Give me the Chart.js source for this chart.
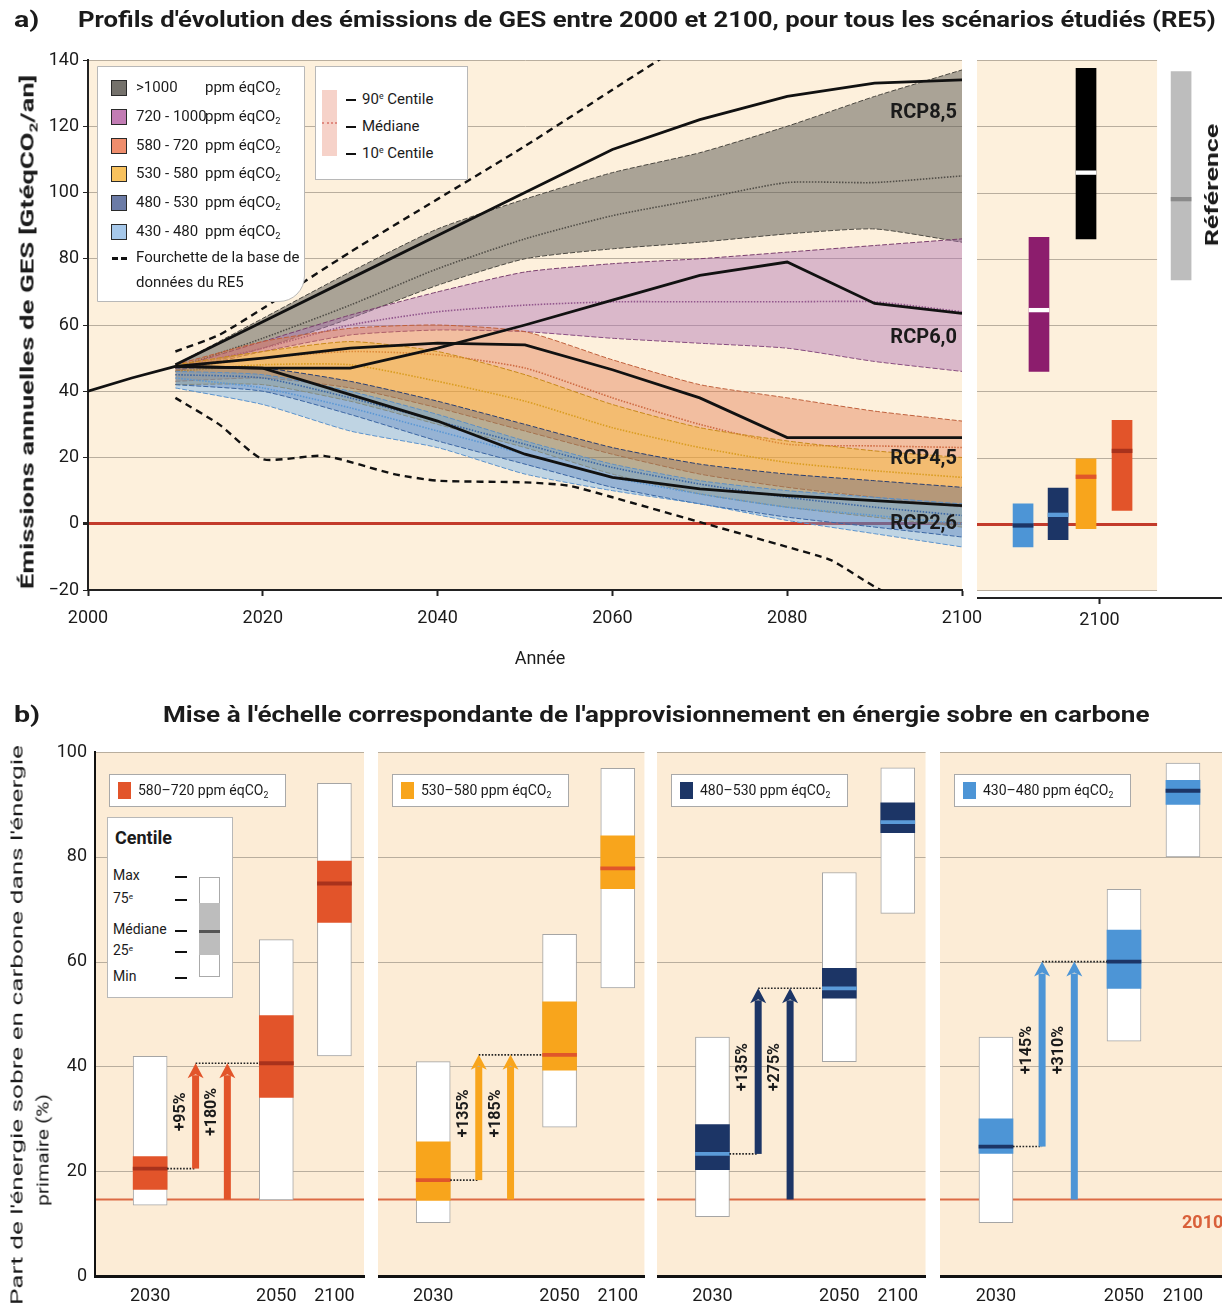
<!DOCTYPE html>
<html lang="fr">
<head>
<meta charset="utf-8">
<title>Émissions de GES et énergie sobre en carbone (RE5)</title>
<script src="https://cdn.jsdelivr.net/npm/chart.js@4.4.1/dist/chart.umd.min.js"></script>
<style>
  html, body { margin: 0; padding: 0; background: #fff; }
  body { position: relative; width: 1222px; height: 1315px; overflow: hidden;
         font-family: Roboto, "Open Sans", sans-serif; color: #1b1b1b; }
  canvas { position: absolute; }
  .t { position: absolute; white-space: nowrap; line-height: 1; }
  .title { font-weight: bold; font-size: 22px; transform-origin: left center; }
  .c { transform: translate(-50%, -50%); }
  .box { position: absolute; background: #fff; border: 1px solid #b8b8b8; box-sizing: border-box; }
  .sw { position: absolute; box-sizing: border-box; }
  .dash { position: absolute; height: 2px; background: #111; }
  sub { font-size: 62%; vertical-align: -0.35em; line-height: 0; }
  sup { font-size: 58%; vertical-align: 0.55em; line-height: 0; }
  .lg { font-size: 15px; }
  .lg span.n { display: inline-block; width: 69px; }
</style>
</head>
<body>

<canvas id="mainChart" width="1005" height="680" style="left:0;top:0"></canvas>
<canvas id="sideChart" width="245" height="680" style="left:977px;top:0"></canvas>
<div id="panelsB"></div>

<!-- titles -->
<div class="t title fit" data-w="26" style="left:14px;top:9px;">a)</div>
<div class="t title fit" data-w="1138" style="left:78px;top:9px;">Profils d'évolution des émissions de GES entre 2000 et 2100, pour tous les scénarios étudiés (RE5)</div>
<div class="t title fit" data-w="26" style="left:14px;top:704px;">b)</div>
<div class="t title fit" data-w="987" style="left:163px;top:704px;">Mise à l'échelle correspondante de l'approvisionnement en énergie sobre en carbone</div>

<div class="t fit" data-rot="1" data-w="515" style="left:27px;top:332px;font-weight:bold;font-size:19px;">Émissions annuelles de GES [GtéqCO<sub>2</sub>/an]</div>
<div class="t c" style="left:540px;top:658px;font-size:18px;">Année</div>
<div class="t fit" data-rot="1" data-w="123" style="left:1212px;top:185px;font-weight:bold;font-size:18px;">Référence</div>
<div class="t fit" data-rot="1" data-w="560" style="left:17px;top:1025px;font-size:17px;">Part de l'énergie sobre en carbone dans l'énergie</div>
<div class="t fit" data-rot="1" data-w="112" style="left:43px;top:1150px;font-size:17px;">primaire (%)</div>
<div class="t" style="left:1182px;top:1213px;font-size:18px;font-weight:bold;color:#d9603a;">2010</div>

<!-- legend a -->
<div class="box" style="left:97px;top:66px;width:208px;height:236px;border-radius:0 0 26px 0;"></div>
<div id="legendA"></div>
<div class="sw" style="left:112px;top:257px;width:6px;height:3px;background:#111;"></div>
<div class="sw" style="left:121px;top:257px;width:6px;height:3px;background:#111;"></div>
<div class="t lg" style="left:136px;top:250px;">Fourchette de la base de</div>
<div class="t lg" style="left:136px;top:275px;">données du RE5</div>

<div class="box" style="left:315px;top:66px;width:153px;height:114px;"></div>
<div class="sw" style="left:322px;top:90px;width:15px;height:66px;background:rgba(240,180,165,0.6);"></div>
<div class="sw" style="left:322px;top:122px;width:15px;height:0;border-top:2px dotted #e08a80;"></div>
<div class="dash" style="left:346px;top:99px;width:10px;"></div>
<div class="dash" style="left:346px;top:126px;width:10px;"></div>
<div class="dash" style="left:346px;top:153px;width:10px;"></div>
<div class="t lg" style="left:362px;top:92px;">90<sup>e</sup> Centile</div>
<div class="t lg" style="left:362px;top:119px;">Médiane</div>
<div class="t lg" style="left:362px;top:146px;">10<sup>e</sup> Centile</div>

<!-- panel b legends -->
<div id="legendB"></div>
<div class="box" style="left:107px;top:817px;width:126px;height:181px;"></div>
<div class="t" style="left:115px;top:829px;font-size:18px;font-weight:bold;">Centile</div>
<div class="t lg" style="left:113px;top:868px;font-size:14px;">Max</div>
<div class="t lg" style="left:113px;top:891px;font-size:14px;">75<sup>e</sup></div>
<div class="t lg" style="left:113px;top:922px;font-size:14px;">Médiane</div>
<div class="t lg" style="left:113px;top:943px;font-size:14px;">25<sup>e</sup></div>
<div class="t lg" style="left:113px;top:969px;font-size:14px;">Min</div>
<div class="dash" style="left:175px;top:876px;width:12px;"></div>
<div class="dash" style="left:175px;top:899px;width:12px;"></div>
<div class="dash" style="left:175px;top:930px;width:12px;"></div>
<div class="dash" style="left:175px;top:951px;width:12px;"></div>
<div class="dash" style="left:175px;top:977px;width:12px;"></div>
<div class="sw" style="left:199px;top:877px;width:21px;height:100px;border:1px solid #aaa;background:#fff;"></div>
<div class="sw" style="left:199px;top:903px;width:21px;height:52px;background:#bdbdbd;"></div>
<div class="sw" style="left:199px;top:930px;width:21px;height:3px;background:#555;"></div>

<script>
// ---------- a) emissions pathways (GtCO2eq / yr) ----------
const years = [2010, 2020, 2030, 2040, 2050, 2060, 2070, 2080, 2090, 2100];
const histYears = [2000, 2005, 2010];
const histEmissions = [40, 44, 47.5];

const rcp85 = [48, 61, 74, 87, 100, 113, 122, 129, 133, 134];
const rcp60 = [47.5, 47, 47, 53, 60, 67.5, 75, 79, 66.5, 63.5];
const rcp45 = [47.5, 50, 53, 54.5, 54, 46.5, 38, 26, 26, 26];
const rcp26 = [47.5, 47, 39, 31, 21, 14, 10.5, 8.5, 7, 5.5];
const rcpNames = ['RCP8,5', 'RCP6,0', 'RCP4,5', 'RCP2,6'];
const rcpTagAt = [124, 56, 19.5, 0];

const dbHighYears = [2010, 2015, 2020, 2030, 2040, 2050, 2060, 2070];
const dbHigh = [52, 57, 65, 82, 98, 114, 131, 148];
const dbLowYears = [2010, 2015, 2020, 2027, 2035, 2040, 2050, 2055, 2060, 2070, 2080, 2085, 2090, 2095];
const dbLow = [38, 30, 19.5, 20.5, 15, 13, 12.5, 11.5, 8, 0.5, -7, -11, -19, -26];

// 90th centile / median / 10th centile per concentration category
const hi1000 = [48, 62, 76, 89, 98, 106, 112, 120, 129, 137];
const med1000 = [47, 56, 66, 77, 86, 93, 98, 103, 103, 105];
const lo1000 = [46, 53, 62, 72, 80, 83, 85, 87.5, 89, 85];
const hi720 = [47, 55, 63, 70, 76, 78.5, 80, 82, 84, 86];
const med720 = [47, 53, 60, 64, 66, 67, 67, 67, 67, 64];
const lo720 = [46, 52, 57, 58.5, 58, 56, 54.5, 53, 49, 46];
const hi580 = [48, 55, 59, 60, 58, 49.5, 42, 38, 34, 31];
const med580 = [47, 50, 52, 51, 47, 38, 30, 24, 23.5, 23];
const lo580 = [43, 44, 41, 35, 28, 21, 15, 11, 8, 5];
const hi530 = [48, 52, 55, 52, 45, 36, 29, 25, 22, 20];
const med530 = [46, 48, 48, 43, 37, 29, 23, 18.5, 16, 14];
const lo530 = [42, 42, 37, 30, 23, 15, 9, 5, 2, -1];
const hi480 = [47, 47, 43, 37, 30, 23, 18, 15, 13, 11];
const med480 = [45, 44, 38, 31, 24, 17, 12, 8, 5, 2.5];
const lo480 = [42, 40, 33, 25, 18, 11, 6, 2, -1, -4];
const hi430 = [46, 45, 40, 33, 25, 18, 13, 10, 8, 6];
const med430 = [44, 41, 35, 28, 21, 14, 9, 5, 2.5, 0];
const lo430 = [41, 36, 28, 23, 15, 10, 6, 1, -3, -7];

const catNames = ['>1000', '720 - 1000', '580 - 720', '530 - 580', '480 - 530', '430 - 480'];

// 2100 ranges (side panel)
const sideNames = ['430-480', '720-1000', '480-530', '>1000', '530-580', '580-720', 'Référence'];
const sideLow = [-7, 46, -4.8, 86, -1.5, 4, 73.6];
const sideMed = [-0.5, 64.5, 2.7, 106, 14.2, 22, 98];
const sideHigh = [6, 86.5, 10.8, 137.5, 19.6, 31.2, 136.5];

// ---------- b) low-carbon share of primary energy (%) ----------
const bYears = ['2030', '2050', '2100'];
const bScenarios = ['580–720', '530–580', '480–530', '430–480'];
const bMin = [[13.5, 14.5, 42], [10.2, 28.4, 55], [11.3, 40.9, 69.2], [10.2, 44.8, 80]];
const bQ25 = [[16.5, 34.1, 67.5], [14.4, 39.3, 73.9], [20.3, 53, 84.6], [23.4, 54.9, 90]];
const bMed = [[20.5, 40.6, 74.9], [18.3, 42.2, 77.8], [23.3, 54.9, 86.6], [24.7, 60, 92.6]];
const bQ75 = [[22.8, 49.7, 79.2], [25.6, 52.3, 84], [28.9, 58.7, 90.3], [30, 66, 94.6]];
const bMax = [[41.9, 64.2, 94], [40.9, 65.2, 96.9], [45.6, 77, 97], [45.6, 73.8, 97.9]];
const gainVs2030 = ['+95%', '+135%', '+135%', '+145%'];
const gainVs2010 = ['+180%', '+185%', '+275%', '+310%'];
const share2010 = 14.6;

// ---------- styling / layout ----------
const FONT = 'Roboto, "Open Sans", sans-serif';
const CREAM = '#fdf0dc';
const CREAM_B = '#fcecd6';
const GRID = '#b9ae9e';
const INK = '#1b1b1b';

const bandFill = ['rgba(87,86,80,0.5)', 'rgba(175,115,180,0.45)', 'rgba(227,121,77,0.42)',
                  'rgba(246,184,42,0.4)', 'rgba(40,70,140,0.3)', 'rgba(90,165,240,0.38)'];
const bandEdge = ['#4a4740', '#7a3f6e', '#c0603c', '#c88a1a', '#2a3f70', '#5d8fc4'];
const legendSwatch = ['#74716b', '#c27cb4', '#ee8d6c', '#f8c25e', '#6b7ba6', '#a6c8ea'];

const sideColor = ['#4d95d6', '#8c1d6d', '#1c3566', '#000000', '#f8a51c', '#e2542a', '#bdbdbd'];
const sideMedColor = ['#1c3566', '#ffffff', '#5b9bd9', '#ffffff', '#e0562a', '#a8321c', '#8a8a8a'];
const sidePos = [1.88, 2.53, 3.31, 4.45, 4.45, 5.92, 8.33];
const sideCreamEnd = 7.35;

const bColor = ['#e2542a', '#f8a51c', '#1c3566', '#4d95d6'];
const bMedColor = ['#a8321c', '#e0562a', '#5b9bd9', '#1c3566'];
const bPlot = [[95, 368], [378, 648], [657, 928], [940, 1222]];
const slotX = [2.05, 6.74, 8.9];
const arrowX = [3.74, 4.92];
const PX_PER_UNIT = 27.3;

function pts(xs, ys) { return ys.map((y, i) => ({ x: xs[i], y: y })); }

// ---------- HTML legends ----------
const legendA = document.getElementById('legendA');
catNames.forEach((name, i) => {
  const y = 88 + i * 28.8;
  legendA.innerHTML +=
    `<div class="sw" style="left:111px;top:${y - 8}px;width:16px;height:16px;border:1.5px solid #2a2a2a;background:${legendSwatch[i]}"></div>` +
    `<div class="t lg" style="left:136px;top:${y - 8}px;"><span class="n">${name}</span>ppm éqCO<sub>2</sub></div>`;
});

const legendB = document.getElementById('legendB');
bScenarios.forEach((name, i) => {
  const left = bPlot[i][0] + 14;
  legendB.innerHTML +=
    `<div class="box" style="left:${left}px;top:774px;width:177px;height:33px;border-color:#a9a9a9"></div>` +
    `<div class="sw" style="left:${left + 9}px;top:782px;width:13px;height:17px;background:${bColor[i]}"></div>` +
    `<div class="t" style="left:${left + 29}px;top:783px;font-size:14px;">${name} ppm éqCO<sub>2</sub></div>`;
});

// ---------- plugins ----------
const creamBg = {
  id: 'creamBg',
  beforeDraw(chart, args, opts) {
    const { ctx, chartArea: a } = chart;
    ctx.save();
    ctx.fillStyle = opts.color || CREAM;
    ctx.fillRect(a.left, a.top, a.right - a.left, a.bottom - a.top);
    ctx.restore();
  }
};

const rcpTags = {
  id: 'rcpTags',
  afterDatasetsDraw(chart) {
    const { ctx, scales: { x, y } } = chart;
    ctx.save();
    ctx.font = 'bold 20px ' + FONT;
    ctx.fillStyle = '#1a1a1a';
    ctx.textAlign = 'right';
    ctx.textBaseline = 'middle';
    rcpNames.forEach((n, i) => ctx.fillText(n, x.getPixelForValue(2100) - 5, y.getPixelForValue(rcpTagAt[i])));
    ctx.restore();
  }
};

const sideBg = {
  id: 'sideBg',
  beforeDraw(chart) {
    const { ctx, chartArea: a, scales: { x, y } } = chart;
    const right = x.getPixelForValue(sideCreamEnd);
    const top = y.getPixelForValue(140), bottom = y.getPixelForValue(-20);
    ctx.save();
    ctx.fillStyle = CREAM;
    ctx.fillRect(a.left, top, right - a.left, bottom - top);
    for (let v = -20; v <= 140; v += 20) {
      const py = Math.round(y.getPixelForValue(v)) + 0.5;
      ctx.strokeStyle = v === 0 ? '#c33b2b' : GRID;
      ctx.lineWidth = v === 0 ? 3 : 1;
      ctx.beginPath(); ctx.moveTo(a.left, py); ctx.lineTo(right, py); ctx.stroke();
    }
    ctx.restore();
  }
};

const panelBg = {
  id: 'panelBg',
  beforeDraw(chart) {
    const { ctx, chartArea: a, scales: { y } } = chart;
    ctx.save();
    ctx.fillStyle = CREAM_B;
    ctx.fillRect(a.left, a.top, a.right - a.left, a.bottom - a.top);
    ctx.strokeStyle = GRID; ctx.lineWidth = 1;
    [20, 40, 60, 80, 100].forEach(v => {
      const py = Math.round(y.getPixelForValue(v)) + 0.5;
      ctx.beginPath(); ctx.moveTo(a.left, py); ctx.lineTo(a.right, py); ctx.stroke();
    });
    ctx.strokeStyle = '#dc6a44'; ctx.lineWidth = 1.8;
    const p = y.getPixelForValue(share2010);
    ctx.beginPath(); ctx.moveTo(a.left, p); ctx.lineTo(a.right, p); ctx.stroke();
    ctx.restore();
  }
};

function drawArrow(ctx, x, y0, y1, color) {
  const head = 13, hw = 8, sw = 3.5;
  ctx.fillStyle = color;
  ctx.fillRect(x - sw, y1 + head - 1, sw * 2, y0 - y1 - head + 1);
  ctx.beginPath();
  ctx.moveTo(x - hw, y1 + head + 2);
  ctx.lineTo(x, y1);
  ctx.lineTo(x + hw, y1 + head + 2);
  ctx.lineTo(x, y1 + head - 2);
  ctx.closePath();
  ctx.fill();
}

const gainArrows = {
  id: 'gainArrows',
  afterDatasetsDraw(chart, args, o) {
    const { ctx, scales: { x, y } } = chart;
    const half = 17;
    const x30 = x.getPixelForValue(slotX[0]), x50 = x.getPixelForValue(slotX[1]);
    const xa = x.getPixelForValue(arrowX[0]), xb = x.getPixelForValue(arrowX[1]);
    const yFrom = y.getPixelForValue(o.from), yTop = y.getPixelForValue(o.to), yBase = y.getPixelForValue(share2010);
    ctx.save();
    ctx.strokeStyle = '#222'; ctx.lineWidth = 1.6; ctx.setLineDash([1.6, 1.6]);
    ctx.beginPath();
    ctx.moveTo(x30 + half, yFrom); ctx.lineTo(xa, yFrom);
    ctx.moveTo(xa, yTop); ctx.lineTo(x50 - half, yTop);
    ctx.stroke();
    ctx.setLineDash([]);
    drawArrow(ctx, xa, yFrom, yTop, o.color);
    drawArrow(ctx, xb, yBase, yTop, o.color);
    ctx.fillStyle = INK;
    ctx.font = 'bold 16px ' + FONT;
    ctx.textAlign = 'center'; ctx.textBaseline = 'middle';
    const yMid = (yFrom + yTop) / 2 - 4;
    [[xa, o.g1], [xb, o.g2]].forEach(([px, t]) => {
      ctx.save(); ctx.translate(px - 15, yMid); ctx.rotate(-Math.PI / 2); ctx.fillText(t, 0, 0); ctx.restore();
    });
    ctx.restore();
  }
};

// ---------- a) main chart ----------
const mainSets = [];
[rcp85, rcp60, rcp45, rcp26].forEach(v => mainSets.push({ data: pts(years, v), borderColor: '#111', borderWidth: 2.8, tension: 0 }));
mainSets.push({ data: pts(histYears, histEmissions), borderColor: '#111', borderWidth: 2.8, tension: 0 });
mainSets.push({ data: pts(dbHighYears, dbHigh), borderColor: '#111', borderWidth: 2.4, borderDash: [7, 5] });
mainSets.push({ data: pts(dbLowYears, dbLow), borderColor: '#111', borderWidth: 2.4, borderDash: [7, 5] });

const bands = [[hi1000, med1000, lo1000], [hi720, med720, lo720], [hi580, med580, lo580],
               [hi530, med530, lo530], [hi480, med480, lo480], [hi430, med430, lo430]];
for (let i = bands.length - 1; i >= 0; i--) {
  const [hi, med, lo] = bands[i];
  mainSets.push({ data: pts(years, hi), borderColor: bandEdge[i], borderWidth: 1, borderDash: [5, 2],
                  fill: { target: '+2' }, backgroundColor: bandFill[i] });
  mainSets.push({ data: pts(years, med), borderColor: bandEdge[i], borderWidth: 1.6, borderDash: [1.5, 1.5] });
  mainSets.push({ data: pts(years, lo), borderColor: bandEdge[i], borderWidth: 1, borderDash: [5, 2] });
}

const tickFont = { family: FONT, size: 18 };

new Chart(document.getElementById('mainChart'), {
  type: 'line',
  data: { datasets: mainSets },
  options: {
    responsive: false,
    animation: false,
    layout: { padding: { top: 60, right: 43 } },
    elements: { point: { radius: 0 }, line: { tension: 0.2, fill: false } },
    plugins: { legend: { display: false }, tooltip: { enabled: false }, creamBg: { color: CREAM } },
    scales: {
      x: {
        type: 'linear', min: 2000, max: 2100,
        ticks: { stepSize: 20, color: INK, font: tickFont, padding: 12, maxRotation: 0, callback: v => String(v) },
        grid: { drawOnChartArea: false, color: '#222', tickLength: 6, tickWidth: 2 },
        border: { color: '#222', width: 2 },
        afterFit: s => { s.height = 90; }
      },
      y: {
        min: -20, max: 140,
        ticks: { stepSize: 20, color: INK, font: tickFont, padding: 4, callback: v => (v < 0 ? '−' + Math.abs(v) : String(v)) },
        grid: {
          color: c => (c.tick && c.tick.value === 0 ? '#c33b2b' : GRID),
          lineWidth: c => (c.tick && c.tick.value === 0 ? 3 : 1),
          tickLength: 5, tickColor: '#222'
        },
        border: { color: '#222', width: 2 },
        afterFit: s => { s.width = 88; }
      }
    }
  },
  plugins: [creamBg, rcpTags]
});

// ---------- a) side panel, 2100 ranges ----------
new Chart(document.getElementById('sideChart'), {
  type: 'bar',
  data: {
    datasets: [
      { data: sideMed.map((m, i) => ({ x: sidePos[i], y: [m - 0.55, m + 0.55] })), backgroundColor: sideMedColor,
        barThickness: 20, grouped: false },
      { data: sideLow.map((lo, i) => ({ x: sidePos[i], y: [lo, sideHigh[i]] })), backgroundColor: sideColor,
        barThickness: 20, grouped: false }
    ]
  },
  options: {
    responsive: false,
    animation: false,
    layout: { padding: { top: 60 } },
    plugins: { legend: { display: false }, tooltip: { enabled: false } },
    scales: {
      x: {
        type: 'linear', min: 0, max: 10, offset: false,
        afterBuildTicks: s => { s.ticks = [{ value: 5 }]; },
        ticks: { color: INK, font: tickFont, padding: 6, callback: () => '2100' },
        grid: { drawOnChartArea: false, offset: false, color: '#222', tickLength: 6, tickWidth: 2 },
        border: { color: '#222', width: 2 },
        afterFit: s => { s.height = 82; }
      },
      y: { display: false, min: -22.4, max: 140 }
    }
  },
  plugins: [sideBg]
});

// ---------- b) four panels ----------
const panelsB = document.getElementById('panelsB');
bScenarios.forEach((name, i) => {
  const [left, right] = bPlot[i];
  const first = i === 0;
  const canvas = document.createElement('canvas');
  const cLeft = first ? 0 : left;
  canvas.width = right - cLeft;
  canvas.height = 615;
  canvas.style.left = cLeft + 'px';
  canvas.style.top = '700px';
  panelsB.appendChild(canvas);

  const box = (lo, hi) => slotX.map((x, j) => ({ x: x, y: [lo[j], hi[j]] }));
  new Chart(canvas, {
    type: 'bar',
    data: {
      datasets: [
        { data: slotX.map((x, j) => ({ x: x, y: [bMed[i][j] - 0.3, bMed[i][j] + 0.3] })),
          backgroundColor: bMedColor[i], barThickness: 34, grouped: false },
        { data: box(bQ25[i], bQ75[i]), backgroundColor: bColor[i], barThickness: 34, grouped: false },
        { data: box(bMin[i], bMax[i]), backgroundColor: '#ffffff', borderColor: '#a5a5a5', borderWidth: 1,
          borderSkipped: false, barThickness: 34, grouped: false }
      ]
    },
    options: {
      responsive: false,
      animation: false,
      layout: { padding: { top: 52, right: first ? 4 : 0 } },
      plugins: {
        legend: { display: false }, tooltip: { enabled: false },
        gainArrows: { from: bMed[i][0], to: bMed[i][1], color: bColor[i], g1: gainVs2030[i], g2: gainVs2010[i] }
      },
      scales: {
        x: {
          type: 'linear', min: 0, max: (right - left) / PX_PER_UNIT, offset: false,
          afterBuildTicks: s => { s.ticks = slotX.map(v => ({ value: v })); },
          ticks: { color: INK, font: { family: FONT, size: 18 }, padding: 10, autoSkip: false, maxRotation: 0,
                   callback: (v, idx) => bYears[idx] },
          grid: { drawOnChartArea: false, drawTicks: false, offset: false },
          border: { color: '#111', width: 3 },
          afterFit: s => { s.height = 39; }
        },
        y: {
          display: first, min: 0, max: 100,
          ticks: { stepSize: 20, color: INK, font: tickFont, padding: 8 },
          grid: { drawOnChartArea: false, drawTicks: false },
          border: { color: '#111', width: 2 },
          afterFit: s => { s.width = first ? 95 : 0; }
        }
      }
    },
    plugins: [panelBg, gainArrows]
  });
});

// ---------- fit condensed titles ----------
document.querySelectorAll('.fit').forEach(el => {
  const s = Number(el.dataset.w) / el.offsetWidth;
  el.style.transform = el.dataset.rot
    ? `translate(-50%, -50%) rotate(-90deg) scaleX(${s})`
    : `scaleX(${s})`;
});
</script>
</body>
</html>
